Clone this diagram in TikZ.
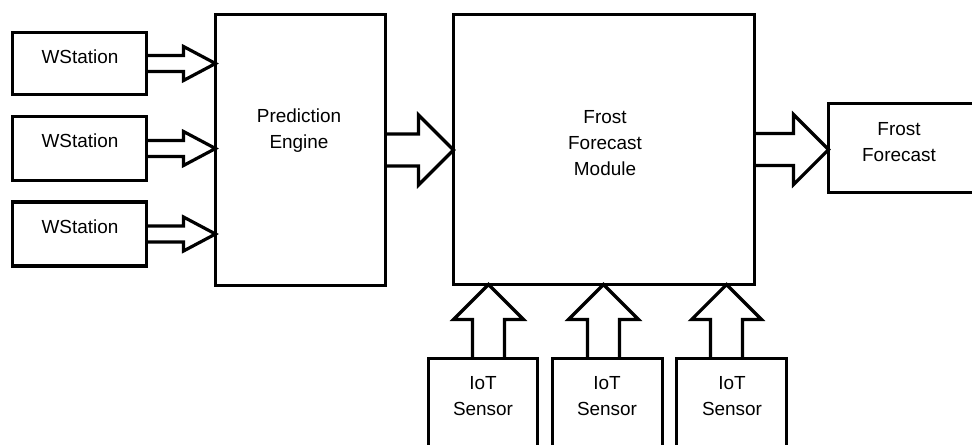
\documentclass[tikz,border=0pt]{standalone}
\usepackage{fontspec}
\setmainfont{Liberation Sans}
\usetikzlibrary{calc}
\tikzset{
  box/.style={draw, line width=2.4pt, inner sep=0pt, outer sep=0pt},
  lbl/.style={font=\fontsize{14.2}{19.5}\selectfont, align=center, inner sep=0pt},
  blk/.style={draw, line width=2.4pt, line join=miter},
}
% horizontal block arrow: from #1 to tip at x of #2; #3 shaft half, #4 head half, #5 head length (pt)
\newcommand\blkR[5]{\draw[blk] let \p1=(#1), \p2=(#2) in
  (\x1,\y1+#3) -- (\x2-#5,\y1+#3) -- (\x2-#5,\y1+#4) -- (\x2,\y1)
  -- (\x2-#5,\y1-#4) -- (\x2-#5,\y1-#3) -- (\x1,\y1-#3);}
% upward block arrow: from #1 up to y of #2
\newcommand\blkU[5]{\draw[blk] let \p1=(#1), \p2=(#2) in
  (\x1-#3,\y1) -- (\x1-#3,\y2-#5) -- (\x1-#4,\y2-#5) -- (\x1,\y2)
  -- (\x1+#4,\y2-#5) -- (\x1+#3,\y2-#5) -- (\x1+#3,\y1);}
\begin{document}
\begin{tikzpicture}[x=0.75pt,y=-0.75pt]
\useasboundingbox (0,0) rectangle (972,444);
\fill[white] (0,0) rectangle (972,444);
\clip (0,0) rectangle (972,444);

% weather stations
\node[box, minimum width={134*0.75pt}, minimum height={62*0.75pt}] (ws1) at (79.5,63.5) {};
\node[box, minimum width={134*0.75pt}, minimum height={64*0.75pt}] (ws2) at (79.5,148.5) {};
\node[box, minimum width={134*0.75pt}, minimum height={64*0.75pt}] (ws3) at (79.5,234) {};
\node[lbl] (ws1t) at (80,57) {WStation};
\node[lbl] (ws2t) at (80,141) {WStation};
\node[lbl] (ws3t) at (80,227) {WStation};

% prediction engine
\node[box, minimum width={170*0.75pt}, minimum height={271*0.75pt}] (pe) at (300.5,150) {};
\node[lbl] (pet) at (299,131) {Prediction\\Engine};

% frost forecast module
\node[box, minimum width={301*0.75pt}, minimum height={270*0.75pt}] (ffm) at (604,149.5) {};
\node[lbl] (ffmt) at (605,143) {Frost\\Forecast\\Module};

% frost forecast output
\node[box, minimum width={150*0.75pt}, minimum height={89*0.75pt}, anchor=west] (ff) at (828.5,148) {};
\node[lbl] (fft) at (899,142.5) {Frost\\Forecast};

% IoT sensors
\node[box, minimum width={109*0.75pt}, minimum height={120*0.75pt}, anchor=north] (s1) at (483,358.5) {};
\node[box, minimum width={110*0.75pt}, minimum height={120*0.75pt}, anchor=north] (s2) at (607.5,358.5) {};
\node[box, minimum width={110*0.75pt}, minimum height={120*0.75pt}, anchor=north] (s3) at (731.5,358.5) {};
\node[lbl] (s1t) at (483,396.5) {IoT\\Sensor};
\node[lbl] (s2t) at (607,396.5) {IoT\\Sensor};
\node[lbl] (s3t) at (732,396.5) {IoT\\Sensor};
\coordinate (u1) at (488.5,358.5);
\coordinate (u2) at (603.5,358.5);
\coordinate (u3) at (726.5,358.5);

% arrows
\blkR{ws1.east}{pe.west}{6pt}{12.75pt}{24pt}
\blkR{ws2.east}{pe.west}{6pt}{12.75pt}{24pt}
\blkR{ws3.east}{pe.west}{6pt}{12.75pt}{24pt}
\blkR{pe.east}{ffm.west}{12pt}{26.25pt}{26.25pt}
\blkR{ffm.east}{ff.west}{12pt}{26.25pt}{26.25pt}
\blkU{u1}{ffm.south}{12pt}{26.25pt}{26.25pt}
\blkU{u2}{ffm.south}{12pt}{26.25pt}{26.25pt}
\blkU{u3}{ffm.south}{12pt}{26.25pt}{26.25pt}
\end{tikzpicture}
\end{document}
